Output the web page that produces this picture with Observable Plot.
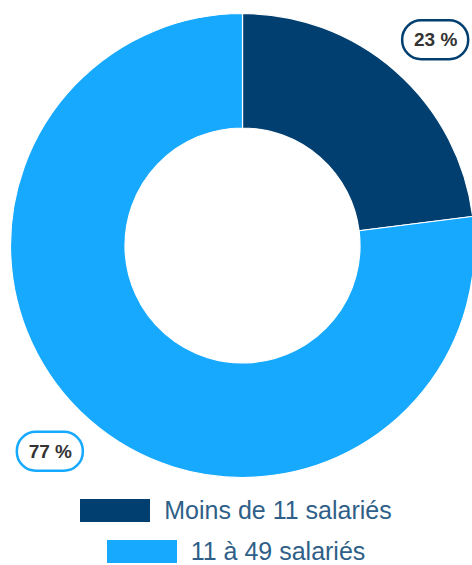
<!DOCTYPE html>
<html><head><meta charset="utf-8">
<script src="https://cdn.jsdelivr.net/npm/d3@7"></script>
<script src="https://cdn.jsdelivr.net/npm/@observablehq/plot@0.6"></script>
<style>
body{margin:0;background:#fff;font-family:"Liberation Sans",Arial,sans-serif;width:472px;height:565px;overflow:hidden;}
#chart svg{display:block;overflow:hidden;}
.legend{padding-top:9px;display:flex;flex-direction:column;align-items:center;gap:18px;}
.row{display:flex;align-items:center;height:23px;gap:14px;}
.sw{display:inline-block;width:70px;height:23px;}
.lt{font-size:25px;color:#2f5f88;line-height:23px;white-space:nowrap;}
</style></head><body><div id="chart"></div><div class="legend" id="legend"></div>
<script>
const categories = ["Moins de 11 salariés", "11 à 49 salariés"];
const shares = [23, 77];
const labels = ["23 %", "77 %"];
const colors = ["#003f6f", "#16a9fe"];

const rows = categories.map((c, i) => ({cat: c, value: shares[i], label: labels[i], color: colors[i]}));
const arcs = d3.pie().sort(null).value(d => d.value)(rows);
const K = 1.215;
const TILT = 0.03;
const labelRows = arcs.map(a => {
  const m = (a.startAngle + a.endAngle) / 2 + TILT;
  return {x: Math.sin(m) * K, y: Math.cos(m) * K, label: a.data.label, color: a.data.color};
});

const ring = (index, scales) => {
  const {x, y} = scales;
  const cx = x(0), cy = y(0), R = x(1) - x(0);
  const g = d3.create("svg:g");
  const arc = d3.arc().innerRadius(R * 0.5065).outerRadius(R);
  g.append("g").attr("transform", `translate(${cx},${cy})`)
    .selectAll("path").data(arcs).join("path")
    .attr("d", arc).attr("fill", d => d.data.color)
    .attr("stroke", "#ffffff").attr("stroke-width", 1.2);
  g.append("g").selectAll("rect").data(labelRows).join("rect")
    .attr("x", d => x(d.x) - 33).attr("y", d => y(d.y) - 19.5)
    .attr("width", 66).attr("height", 39).attr("rx", 19).attr("ry", 19)
    .attr("fill", "#ffffff").attr("stroke", d => d.color).attr("stroke-width", 2.5);
  return g.node();
};

const plot = Plot.plot({
  width: 472,
  height: 490,
  x: {domain: [-1, 1], range: [10.5, 474.5], axis: null},
  y: {domain: [-1, 1], range: [477.5, 13.5], axis: null},
  marks: [
    ring,
    Plot.text(labelRows, {x: "x", y: "y", text: "label", fill: "#333333", fontSize: 19, fontWeight: "bold", fontFamily: "Liberation Sans, Arial, sans-serif"})
  ]
});
document.getElementById("chart").append(plot);

const legend = document.getElementById("legend");
categories.forEach((c, i) => {
  const r = document.createElement("div"); r.className = "row";
  const s = document.createElement("span"); s.className = "sw"; s.style.background = colors[i];
  const t = document.createElement("span"); t.className = "lt"; t.textContent = c;
  r.append(s, t); legend.append(r);
});
</script></body></html>
